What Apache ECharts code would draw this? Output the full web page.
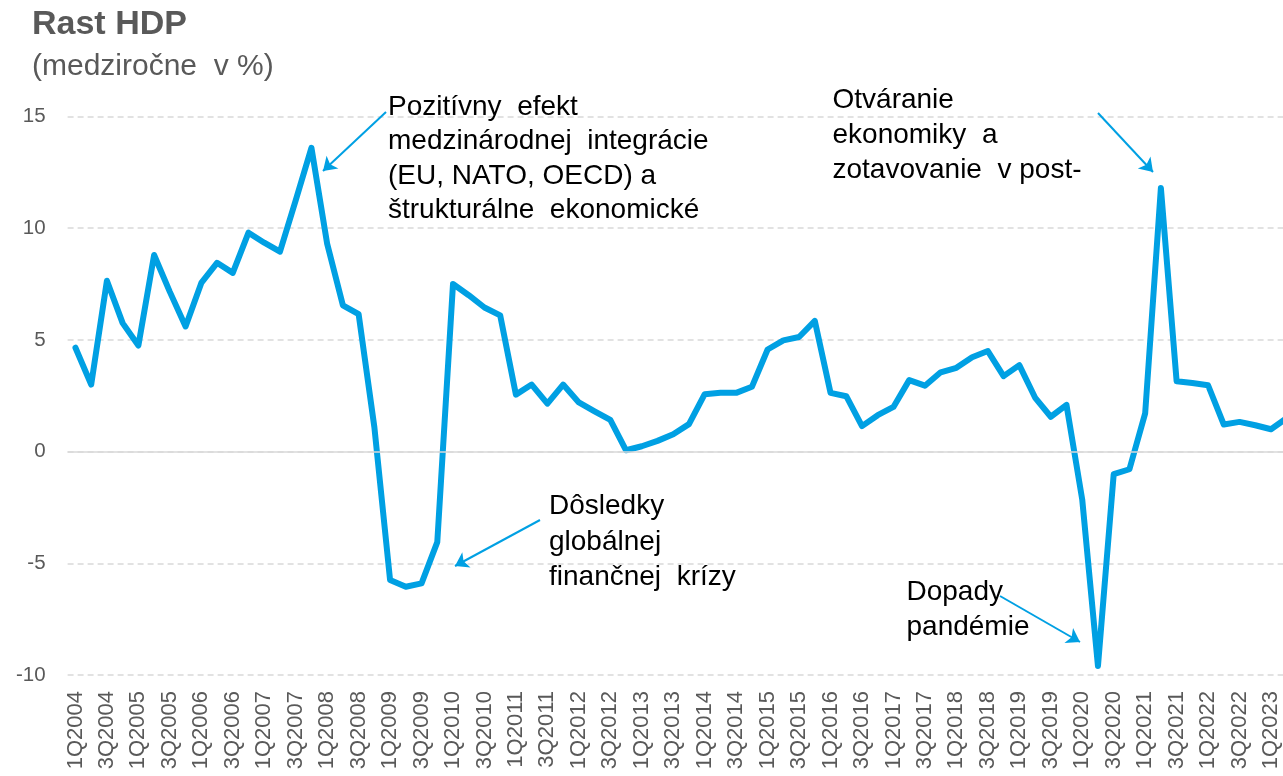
<!DOCTYPE html>
<html>
<head>
<meta charset="utf-8">
<script src="https://cdn.jsdelivr.net/npm/echarts@6/dist/echarts.min.js"></script>
<style>
html,body{margin:0;padding:0;background:#ffffff;overflow:hidden;}
#chart{width:1283px;height:776px;}
</style>
</head>
<body>
<div id="chart"></div>
<script>
// ---- data ----
const quarters = [
  '1Q2004','2Q2004','3Q2004','4Q2004','1Q2005','2Q2005','3Q2005','4Q2005',
  '1Q2006','2Q2006','3Q2006','4Q2006','1Q2007','2Q2007','3Q2007','4Q2007',
  '1Q2008','2Q2008','3Q2008','4Q2008','1Q2009','2Q2009','3Q2009','4Q2009',
  '1Q2010','2Q2010','3Q2010','4Q2010','1Q2011','2Q2011','3Q2011','4Q2011',
  '1Q2012','2Q2012','3Q2012','4Q2012','1Q2013','2Q2013','3Q2013','4Q2013',
  '1Q2014','2Q2014','3Q2014','4Q2014','1Q2015','2Q2015','3Q2015','4Q2015',
  '1Q2016','2Q2016','3Q2016','4Q2016','1Q2017','2Q2017','3Q2017','4Q2017',
  '1Q2018','2Q2018','3Q2018','4Q2018','1Q2019','2Q2019','3Q2019','4Q2019',
  '1Q2020','2Q2020','3Q2020','4Q2020','1Q2021','2Q2021','3Q2021','4Q2021',
  '1Q2022','2Q2022','3Q2022','4Q2022','1Q2023','2Q2023'
];
const gdpGrowth = [
  4.65, 3.0, 7.65, 5.75, 4.75, 8.8, 7.15, 5.6,
  7.55, 8.45, 8.0, 9.8, 9.35, 8.95, 11.25, 13.6,
  9.3, 6.55, 6.15, 1.1, -5.75, -6.05, -5.9, -4.05,
  7.5, 7.0, 6.45, 6.1, 2.55, 3.0, 2.15, 3.0,
  2.2, 1.8, 1.42, 0.06, 0.24, 0.48, 0.78, 1.23,
  2.57, 2.63, 2.63, 2.9, 4.57, 4.98, 5.13, 5.85,
  2.63, 2.48, 1.14, 1.63, 2.0, 3.2, 2.95, 3.55,
  3.75, 4.22, 4.5, 3.38, 3.87, 2.42, 1.56, 2.09,
  -2.15, -9.6, -1.01, -0.79, 1.71, 11.8, 3.15, 3.07,
  2.97, 1.21, 1.33, 1.18, 1.0, 1.5
];
const yMin = -10, yMax = 15, yStep = 5;

const titleText = 'Rast HDP';
const subtitleText = '(medziročne  v %)';
const noteIntegration = ['Pozitívny  efekt', 'medzinárodnej  integrácie', '(EU, NATO, OECD) a', 'štrukturálne  ekonomické'];
const noteCrisis = ['Dôsledky', 'globálnej', 'finančnej  krízy'];
const noteReopening = ['Otváranie', 'ekonomiky  a', 'zotavovanie  v post-'];
const notePandemic = ['Dopady', 'pandémie'];

// ---- styles ----
const FONT = '"Liberation Sans", Arial, sans-serif';
const BLUE = '#00A0E3';
const GRAY_TEXT = '#595959';
const GRID_COLOR = '#D9D9D9';

function note(lines, x, y, lh) {
  return {
    type: 'text', x: x, y: y, silent: true, z: 50,
    style: {
      text: lines.join('\n'), fill: '#000000',
      font: '28px ' + FONT, lineHeight: lh,
      align: 'left', verticalAlign: 'top'
    }
  };
}
function arrow(x1, y1, x2, y2) {
  return [{ x: x1, y: y1 }, { x: x2, y: y2 }];
}

const chart = echarts.init(document.getElementById('chart'), null, { renderer: 'canvas' });
chart.setOption({
  animation: false,
  backgroundColor: '#ffffff',
  title: [
    { text: titleText, left: 32, top: 8, padding: 0,
      textStyle: { fontFamily: FONT, fontSize: 34, fontWeight: 'bold', color: GRAY_TEXT } },
    { text: subtitleText, left: 32, top: 52, padding: 0,
      textStyle: { fontFamily: FONT, fontSize: 30, fontWeight: 'normal', color: GRAY_TEXT } }
  ],
  grid: { left: 67.6, width: 1227, top: 116.5, bottom: 101, containLabel: false, outerBoundsMode: 'none' },
  xAxis: {
    type: 'category',
    data: quarters,
    boundaryGap: true,
    axisLine: { show: false },
    axisTick: { show: false },
    splitLine: { show: false },
    axisLabel: {
      interval: 1, rotate: 90, margin: 16,
      fontFamily: FONT, fontSize: 22, color: GRAY_TEXT
    }
  },
  yAxis: {
    type: 'value', min: yMin, max: yMax, interval: yStep,
    axisLine: { show: false },
    axisTick: { show: false },
    axisLabel: { margin: 22, fontFamily: FONT, fontSize: 20.5, color: GRAY_TEXT },
    splitLine: { show: true, lineStyle: { color: GRID_COLOR, width: 1.5, type: [6, 4] } }
  },
  series: [
    {
      name: 'zero', type: 'line', data: [], z: 1, silent: true,
      markLine: {
        silent: true, symbol: ['none', 'none'], label: { show: false },
        lineStyle: { color: GRID_COLOR, width: 1.5, type: 'solid' },
        emphasis: { disabled: true },
        data: [{ yAxis: 0 }]
      }
    },
    {
      name: 'Rast HDP', type: 'line', data: gdpGrowth, z: 3,
      showSymbol: false, symbol: 'none', smooth: false,
      lineStyle: { color: BLUE, width: 6, join: 'round', cap: 'round' },
      itemStyle: { color: BLUE },
      markLine: {
        silent: true, symbol: ['none', 'arrow'], symbolSize: 13,
        label: { show: false },
        lineStyle: { color: BLUE, width: 2, type: 'solid' },
        emphasis: { disabled: true },
        data: [
          arrow(386, 112, 323, 171),
          arrow(540, 520, 455, 566),
          arrow(1098, 113, 1153, 172),
          arrow(1000, 596, 1080, 642)
        ]
      }
    }
  ],
  graphic: [
    note(noteIntegration, 388, 90, 34.5),
    note(noteCrisis, 549, 489, 35.5),
    note(noteReopening, 832.5, 83, 35),
    note(notePandemic, 906.5, 575, 35)
  ]
});
</script>
</body>
</html>
